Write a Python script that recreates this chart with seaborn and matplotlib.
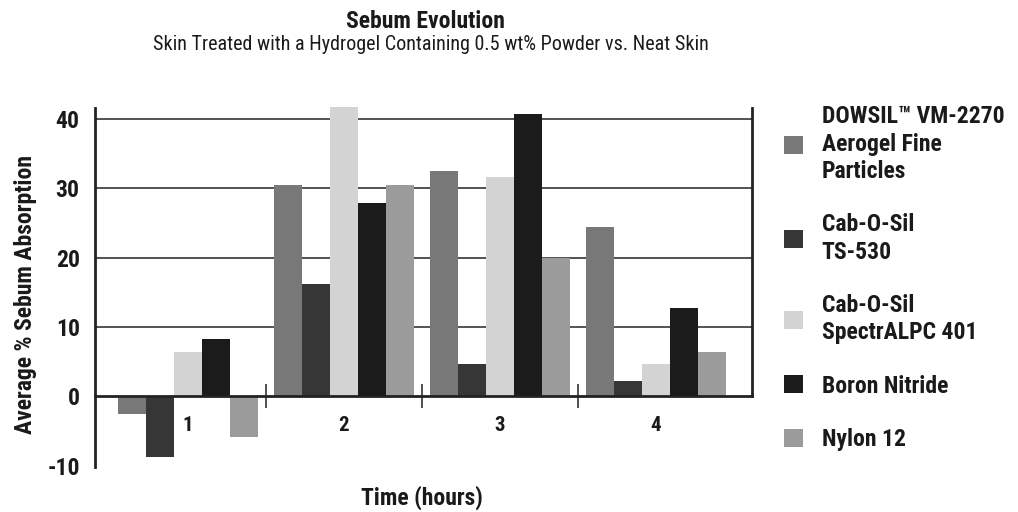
import pandas as pd
import matplotlib
matplotlib.use('Agg')
import matplotlib.pyplot as plt
import seaborn as sns

# values
times = ['1', '2', '3', '4']
materials = [
    'DOWSIL\u2122 VM-2270\nAerogel Fine\nParticles',
    'Cab-O-Sil\nTS-530',
    'Cab-O-Sil\nSpectrALPC 401',
    'Boron Nitride',
    'Nylon 12',
]
dowsil = [-2.6, 30.5, 32.5, 24.5]
ts530 = [-8.7, 16.2, 4.7, 2.2]
spectral = [6.4, 41.7, 31.7, 4.7]
boron = [8.3, 27.9, 40.8, 12.7]
nylon = [-5.9, 30.5, 20.0, 6.4]
colors = ['#787878', '#363636', '#d3d3d3', '#1b1b1b', '#9b9b9b']
yticks = [-10, 0, 10, 20, 30, 40]

rows = []
for name, vals in zip(materials, [dowsil, ts530, spectral, boron, nylon]):
    for t, v in zip(times, vals):
        rows.append({'time': t, 'material': name, 'value': v})
df = pd.DataFrame(rows)

sns.set_style('white')
plt.rcParams['font.family'] = ['Roboto Condensed', 'DejaVu Sans']
plt.rcParams['font.weight'] = 'bold'

fig = plt.figure(figsize=(10.18, 5.12), dpi=100)
ax = fig.add_axes([95 / 1018, 1 - 467 / 512, (752 - 95) / 1018, (467 - 108) / 512])

sns.barplot(
    data=df, x='time', y='value', hue='material',
    order=times, hue_order=materials, palette=colors,
    width=0.9, gap=0, saturation=1, linewidth=0, ax=ax,
)
for p in ax.patches:
    p.set_clip_on(False)

handles, labels = ax.get_legend_handles_labels()
ax.get_legend().remove()

ax.set_xlim(-0.596, 3.615)
ax.set_ylim(-10.2, 41.6)

# y axis
ax.set_yticks(yticks)
ax.set_yticklabels([str(t) for t in yticks], fontsize=17, fontweight='bold')
ax.tick_params(axis='y', length=0, pad=11, colors='#1a1a1a')
ax.set_axisbelow(True)
ax.yaxis.grid(True, color='#444444', linewidth=1.3)
for tick, val in zip(ax.yaxis.get_major_ticks(), yticks):
    if val <= 0:
        tick.gridline.set_visible(False)
ax.xaxis.grid(False)

# x axis sits on zero
ax.spines['bottom'].set_position(('data', 0))
for side in ['bottom', 'left', 'right']:
    ax.spines[side].set_linewidth(2)
    ax.spines[side].set_color('#222222')
ax.spines['right'].set_bounds(0, 41.6)
ax.spines['top'].set_visible(False)

ax.set_xticks(range(len(times)))
ax.set_xticklabels(times, fontsize=15, fontweight='bold')
ax.set_xticks([i + 0.5 for i in range(len(times) - 1)], minor=True)
ax.tick_params(axis='x', which='major', length=0, pad=14, colors='#1a1a1a')
ax.tick_params(axis='x', which='minor', direction='inout', length=17,
               width=1.2, color='#333333', bottom=True)
ax.set_xlabel('')
ax.set_ylabel('')

fig.text(26 / 1018, 1 - 295 / 512, 'Average % Sebum Absorption', rotation=90,
         ha='center', va='center', fontsize=17, fontweight='bold', color='#1a1a1a')
fig.text(422 / 1018, 1 - 498 / 512, 'Time (hours)', ha='center', va='center',
         fontsize=17, fontweight='bold', color='#1a1a1a')
fig.text(425 / 1018, 1 - 22 / 512, 'Sebum Evolution', ha='center', va='center',
         fontsize=17, fontweight='bold', color='#1a1a1a')
fig.text(431 / 1018, 1 - 44 / 512,
         'Skin Treated with a Hydrogel Containing 0.5 wt% Powder vs. Neat Skin',
         ha='center', va='center', fontsize=14.5, fontweight='normal', color='#1a1a1a')

leg = ax.legend(handles, labels, loc='upper left',
                bbox_to_anchor=(784 / 1018, 1 - 105 / 512),
                bbox_transform=fig.transFigure, frameon=False,
                borderpad=0, borderaxespad=0, handlelength=0.8, handleheight=0.8,
                handletextpad=0.8, labelspacing=1.28,
                prop={'family': ['Roboto Condensed', 'DejaVu Sans'], 'size': 17, 'weight': 'bold'})
for txt in leg.get_texts():
    txt.set_color('#1a1a1a')
    txt.set_linespacing(1.25)

fig.savefig('out.png', dpi=100)
